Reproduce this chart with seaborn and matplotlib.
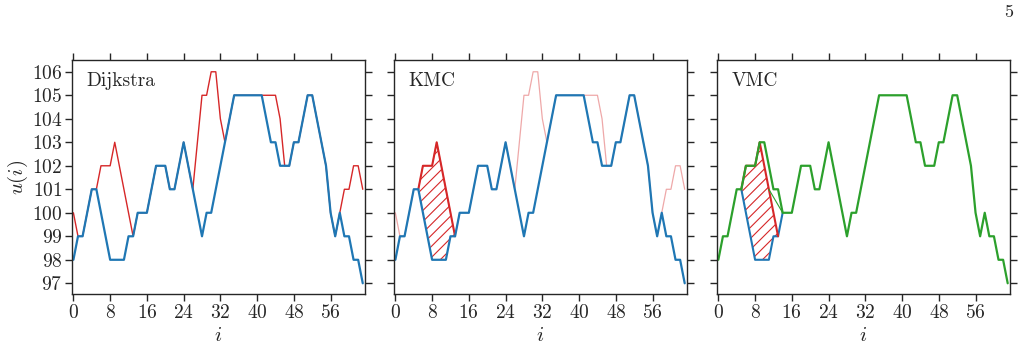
import numpy as np
import matplotlib
matplotlib.use('Agg')
import matplotlib.pyplot as plt
import seaborn as sns

# dados (i = 0..63)
indices = list(range(64))

u_azul = [98, 99, 99, 100, 101, 101, 100, 99, 98, 98,
          98, 98, 99, 99, 100, 100, 100, 101, 102, 102,
          102, 101, 101, 102, 103, 102, 101, 100, 99, 100,
          100, 101, 102, 103, 104, 105, 105, 105, 105, 105,
          105, 105, 104, 103, 103, 102, 102, 102, 103, 103,
          104, 105, 105, 104, 103, 102, 100, 99, 100, 99,
          99, 98, 98, 97]

u_dijkstra = [100, 99, 99, 100, 101, 101, 102, 102, 102, 103,
              102, 101, 100, 99, 100, 100, 100, 101, 102, 102,
              102, 101, 101, 102, 103, 102, 101, 103, 105, 105,
              106, 106, 104, 103, 104, 105, 105, 105, 105, 105,
              105, 105, 105, 105, 105, 104, 102, 102, 103, 103,
              104, 105, 105, 104, 103, 102, 100, 99, 100, 101,
              101, 102, 102, 101]

u_vmc = [98, 99, 99, 100, 101, 101, 102, 102, 102, 103,
         103, 102, 101, 101, 100, 100, 100, 101, 102, 102,
         102, 101, 101, 102, 103, 102, 101, 100, 99, 100,
         100, 101, 102, 103, 104, 105, 105, 105, 105, 105,
         105, 105, 104, 103, 103, 102, 102, 102, 103, 103,
         104, 105, 105, 104, 103, 102, 100, 99, 100, 99,
         99, 98, 98, 97]

# trecho alternativo fino no VMC
vmc_alt_i = [11, 14]
vmc_alt_u = [101, 100]

# trecho do desvio (hachurado)
ini_desvio, fim_desvio = 5, 13

titulos = ['Dijkstra', 'KMC', 'VMC']

AZUL = '#1f77b4'
VERMELHO = '#d62728'
VERDE = '#2ca02c'

sns.set_style('ticks')
plt.rcParams['font.family'] = 'serif'
plt.rcParams['font.serif'] = ['cmr10', 'DejaVu Serif']
plt.rcParams['mathtext.fontset'] = 'cm'
plt.rcParams['axes.formatter.use_mathtext'] = True
plt.rcParams['hatch.linewidth'] = 0.8
plt.rcParams['axes.linewidth'] = 1.0

fig = plt.figure(figsize=(10.26, 3.49), dpi=100)
lefts = [0.0702, 0.3840, 0.6988]
axes = [fig.add_axes([l, 0.158, 0.2856, 0.670]) for l in lefts]

seg = slice(ini_desvio, fim_desvio + 1)
x_seg = indices[seg]

for k, ax in enumerate(axes):
    if k == 0:
        sns.lineplot(x=indices, y=u_dijkstra, ax=ax, color=VERMELHO, linewidth=1.0)
        sns.lineplot(x=indices, y=u_azul, ax=ax, color=AZUL, linewidth=1.6)
    elif k == 1:
        sns.lineplot(x=indices, y=u_dijkstra, ax=ax, color=VERMELHO, linewidth=0.9, alpha=0.4)
        ax.fill_between(x_seg, u_dijkstra[seg], u_azul[seg], facecolor='none',
                        edgecolor=VERMELHO, hatch='///', linewidth=0)
        sns.lineplot(x=x_seg, y=u_dijkstra[seg], ax=ax, color=VERMELHO, linewidth=1.5)
        sns.lineplot(x=indices, y=u_azul, ax=ax, color=AZUL, linewidth=1.6)
    else:
        ax.fill_between(x_seg, u_dijkstra[seg], u_azul[seg], facecolor='none',
                        edgecolor=VERMELHO, hatch='///', linewidth=0)
        sns.lineplot(x=indices[ini_desvio:fim_desvio + 2], y=u_azul[ini_desvio:fim_desvio + 2],
                     ax=ax, color=AZUL, linewidth=1.5)
        sns.lineplot(x=x_seg, y=u_dijkstra[seg], ax=ax, color=VERMELHO, linewidth=1.5)
        sns.lineplot(x=vmc_alt_i, y=vmc_alt_u, ax=ax, color=VERDE, linewidth=0.8)
        sns.lineplot(x=indices, y=u_vmc, ax=ax, color=VERDE, linewidth=1.6)

    ax.set_xlim(-0.3, 63.5)
    ax.set_ylim(96.55, 106.5)
    ax.set_xticks(range(0, 57, 8))
    ax.set_yticks(range(97, 107))
    ax.tick_params(direction='out', length=5, width=1, top=True, right=True,
                   labelsize=14, pad=2)
    if k > 0:
        ax.set_yticklabels([])
        ax.set_ylabel('')
    else:
        ax.set_ylabel('$u(i)$', fontsize=15, labelpad=1)
    ax.set_xlabel('$i$', fontsize=15, labelpad=4)
    ax.text(0.05, 0.91, titulos[k], transform=ax.transAxes, fontsize=14,
            va='center', ha='left')

fig.text(0.987, 0.965, '5', fontsize=13, ha='right', va='center')

fig.savefig('out.png', dpi=100)
